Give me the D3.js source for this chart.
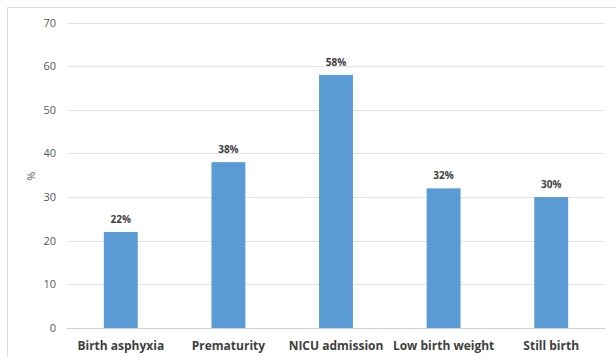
<!DOCTYPE html>
<html>
<head>
<meta charset="utf-8">
<script src="https://cdn.jsdelivr.net/npm/d3@7"></script>
<style>
  html, body { margin: 0; padding: 0; background: #fff; }
  svg { display: block; font-family: "Open Sans", "Liberation Sans", Arial, sans-serif; }
</style>
</head>
<body>
<svg id="chart" width="616" height="357"></svg>
<script>
// Neonatal outcomes, percentage of cases
const categories = ["Birth asphyxia", "Prematurity", "NICU admission", "Low birth weight", "Still birth"];
const values = [22, 38, 58, 32, 30];
const yTicks = [0, 10, 20, 30, 40, 50, 60, 70];

const svg = d3.select("#chart");
const margin = { left: 67, right: 11, top: 22.5, bottom: 29 };
const W = 616, H = 357;

// Chart frame (top and left edges show)
svg.append("path")
  .attr("d", `M7.5,${H} V7.5 H${W}`)
  .attr("fill", "none")
  .attr("stroke", "#d9d9d9")
  .attr("stroke-width", 1);

const x = d3.scaleBand()
  .domain(categories)
  .range([margin.left, W - margin.right])
  .padding(0);

const y = d3.scaleLinear()
  .domain([0, 70])
  .range([H - margin.bottom, margin.top]);

const barW = x.bandwidth() * 0.315;

// Gridlines
svg.append("g")
  .selectAll("line")
  .data(yTicks)
  .join("line")
  .attr("x1", margin.left)
  .attr("x2", W - margin.right)
  .attr("y1", d => Math.round(y(d)) + 0.5)
  .attr("y2", d => Math.round(y(d)) + 0.5)
  .attr("stroke", d => d === 0 ? "#d0d0d0" : "#e3e3e3")
  .attr("stroke-width", 1);

// Y axis tick labels
const yAxis = d3.axisLeft(y).tickValues(yTicks).tickSize(0).tickPadding(11);
const gy = svg.append("g")
  .attr("transform", `translate(${margin.left},0)`)
  .call(yAxis);
gy.select(".domain").remove();
gy.selectAll("text")
  .attr("font-size", 11)
  .attr("fill", "#595959")
  .attr("font-family", "'Open Sans', 'Liberation Sans', Arial, sans-serif");

// Y axis title
svg.append("text")
  .attr("transform", `translate(35,${(margin.top + H - margin.bottom) / 2 + 1}) rotate(-90)`)
  .attr("text-anchor", "middle")
  .attr("font-size", 11)
  .attr("fill", "#595959")
  .text("%");

// Bars
svg.append("g")
  .selectAll("rect")
  .data(values)
  .join("rect")
  .attr("x", (d, i) => x(categories[i]) + x.bandwidth() / 2 - barW / 2)
  .attr("y", d => y(d))
  .attr("width", barW)
  .attr("height", d => y(0) - y(d))
  .attr("fill", "#5b9bd5");

// Value labels
svg.append("g")
  .selectAll("text")
  .data(values)
  .join("text")
  .attr("x", (d, i) => x(categories[i]) + x.bandwidth() / 2)
  .attr("y", d => y(d) - 9)
  .attr("text-anchor", "middle")
  .attr("font-size", 10)
  .attr("font-weight", "bold")
  .attr("fill", "#404040")
  .text(d => d + "%");

// Category labels
const xAxis = d3.axisBottom(x).tickSize(0).tickPadding(13);
const gx = svg.append("g")
  .attr("transform", `translate(0,${y(0)})`)
  .call(xAxis);
gx.select(".domain").remove();
gx.selectAll("text")
  .attr("font-size", 12)
  .attr("font-weight", "bold")
  .attr("fill", "#404040")
  .attr("font-family", "'Open Sans', 'Liberation Sans', Arial, sans-serif");
</script>
</body>
</html>
